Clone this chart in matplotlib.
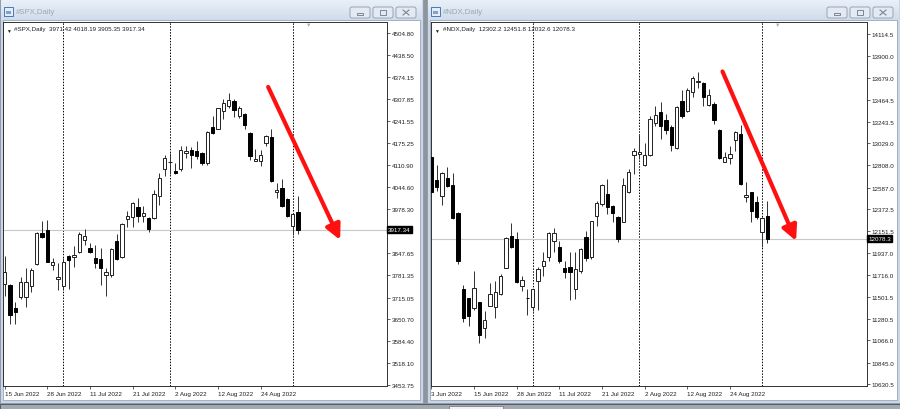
import matplotlib
matplotlib.use('Agg')  # no display

import matplotlib.pyplot as plt
import matplotlib.transforms as mtransforms
from matplotlib.patches import Rectangle, FancyBboxPatch
import numpy as np
import pandas as pd

plt.rcParams['font.family'] = ['Liberation Sans', 'DejaVu Sans']

W, H = 900, 410

# trading days on screen (NDX window starts 3 Jun, SPX window 15 Jun)
holidays = pd.to_datetime(['2022-06-20', '2022-07-04'])
days = pd.bdate_range('2022-06-03', '2022-09-02')
days = days[~days.isin(holidays)]

# ---- #SPX,Daily (15 Jun .. 2 Sep)
spx_open = [3755, 3752, 3685, 3717, 3716, 3749, 3815, 3909, 3916, 3811, 3769, 3749, 3840, 3835,
            3852, 3886, 3863, 3832, 3830, 3782, 3782, 3884, 3835, 3950, 3957, 3986, 3959, 3954,
            3952, 4017, 4100, 4119, 4092, 4100, 4148, 4156, 4154, 4147, 4117, 4224, 4219, 4272,
            4287, 4302, 4257, 4262, 4207, 4124, 4122, 4177, 4195, 4030, 4042, 4010, 3930, 3971.42]
spx_high = [3840, 3755, 3702, 3777, 3802, 3802, 3910, 3944, 3947, 3832, 3817, 3832, 3842, 3870,
            3912, 3920, 3877, 3872, 3862, 3802, 3862, 3904, 3937, 3972, 4000, 4012, 3987, 3956,
            4037, 4087, 4142, 4147, 4117, 4167, 4167, 4166, 4184, 4150, 4212, 4257, 4282, 4307,
            4327, 4307, 4287, 4267, 4210, 4159, 4157, 4199, 4217, 4057, 4069, 4012, 3967, 4018.19]
spx_low = [3720, 3637, 3635, 3712, 3687, 3732, 3812, 3892, 3820, 3797, 3737, 3737, 3742, 3807,
           3849, 3872, 3847, 3802, 3752, 3720, 3777, 3827, 3832, 3927, 3927, 3940, 3942, 3912,
           3950, 3992, 4077, 4084, 4084, 4094, 4132, 4102, 4130, 4110, 4112, 4202, 4217, 4247,
           4282, 4254, 4252, 4217, 4127, 4122, 4107, 4167, 4060, 4012, 3984, 3957, 3902, 3905.35]
spx_close = [3790, 3662, 3672, 3760, 3762, 3796, 3907, 3897, 3822, 3820, 3777, 3820, 3827, 3843,
             3904, 3898, 3850, 3817, 3804, 3790, 3860, 3829, 3935, 3958, 3997, 3959, 3968, 3920,
             4024, 4072, 4131, 4121, 4088, 4156, 4152, 4142, 4139, 4117, 4209, 4207, 4280, 4297,
             4306, 4275, 4282, 4230, 4137, 4130, 4142, 4197, 4062, 4035, 3987, 3960, 3964, 3917.34]
spx_yticks = [4504.80, 4438.50, 4374.15, 4307.85, 4241.55, 4175.25, 4110.90, 4044.60, 3978.30,
              3847.65, 3781.35, 3715.05, 3650.70, 3584.40, 3518.10, 3453.75]

# ---- #NDX,Daily (3 Jun .. 2 Sep)
ndx_open = [12889, 12663, 12507, 12680, 12614, 12331, 11578, 11485, 11385, 11445, 11186, 11412,
            11395, 11528, 11790, 12106, 12076, 11611, 11492, 11395, 11654, 11810, 11893, 12059,
            11993, 11790, 11793, 11578, 11760, 12092, 11893, 12302, 12424, 12524, 12408, 12292,
            12248, 12540, 12912, 12919, 12813, 12912, 13231, 13337, 13261, 13188, 12982, 13453,
            13354, 13537, 13636, 13629, 13414, 13420, 13161, 12846, 12879, 13062, 13121, 12491,
            12547, 12447, 12142, 12302.2]
ndx_high = [12899, 12813, 12746, 12789, 12730, 12348, 11618, 11491, 11760, 11452, 11362, 11638,
            11661, 11727, 12092, 12232, 12149, 11710, 11578, 11578, 11793, 11943, 12142, 12182,
            12059, 11860, 11943, 11943, 11983, 12159, 12258, 12457, 12624, 12673, 12414, 12302,
            12680, 12773, 12978, 13111, 13032, 13297, 13404, 13437, 13321, 13211, 13404, 13563,
            13576, 13702, 13736, 13636, 13570, 13437, 13171, 12939, 12998, 13155, 13211, 12640,
            12547, 12507, 12291, 12451.8]
ndx_low = [12507, 12557, 12418, 12590, 12275, 11827, 11246, 11206, 11372, 11040, 11086, 11405,
           11286, 11518, 11784, 11983, 11637, 11561, 11319, 11362, 11372, 11710, 11860, 11950,
           11837, 11684, 11471, 11478, 11737, 11860, 11876, 12209, 12408, 12325, 12242, 12049,
           12242, 12534, 12723, 12872, 12799, 12899, 13204, 13072, 13121, 12955, 12972, 13277,
           13337, 13487, 13576, 13404, 13404, 13221, 12872, 12839, 12823, 12955, 12613, 12441,
           12242, 12275, 11992, 12032.6]
ndx_close = [12547, 12590, 12730, 12607, 12285, 11860, 11286, 11312, 11591, 11120, 11272, 11528,
             11545, 11711, 12089, 11993, 11644, 11667, 11488, 11578, 11777, 11853, 12132, 12136,
             11853, 11750, 11750, 11777, 11976, 11883, 12252, 12434, 12617, 12391, 12335, 12076,
             12613, 12740, 12955, 12945, 12912, 13271, 13311, 13204, 13165, 13012, 13387, 13304,
             13563, 13676, 13652, 13487, 13510, 13261, 12882, 12889, 12922, 13145, 12623, 12514,
             12358, 12291, 12281, 12078.3]
ndx_yticks = [14114.5, 13900.0, 13679.0, 13464.5, 13243.5, 13029.0, 12808.0, 12587.0, 12372.5,
              12151.5, 11937.0, 11716.0, 11501.5, 11280.5, 11066.0, 10845.0, 10630.5]

# hand-drawn trend arrows: (bar, price) start -> end
spx_arrow = ((49.4, 4344), (62.9, 3887))
ndx_arrow = ((54.6, 13744), (68.4, 12056))

FS = 4.5


def draw_window(bg, x0, x1, title):
    # window frame + title bar + client area
    bg.add_patch(Rectangle((x0, 0), x1 - x0, 404, fc='#c8d6e8', ec='#8d99a6', lw=0.6))
    grad = np.linspace(0, 1, 30).reshape(-1, 1)
    bg.imshow(grad, cmap=matplotlib.colors.LinearSegmentedColormap.from_list(
        't', ['#e9f0f8', '#cfdcec']), extent=(x0 + 1, x1 - 1, 21, 1), aspect='auto', zorder=1)
    bg.add_patch(Rectangle((x0 + 3, 21), x1 - x0 - 6, 380, fc='white', ec='#9aa8b8', lw=0.6, zorder=2))
    # icon
    bg.add_patch(Rectangle((x0 + 4, 8), 9, 9, fc='#e4edf7', ec='#4b78b0', lw=0.7, zorder=3))
    bg.add_patch(Rectangle((x0 + 6, 12), 5, 3, fc='#7fa3d0', ec='none', zorder=3))
    bg.text(x0 + 16, 13, title, fontsize=5.6, color='#9ba7b5', va='center', ha='left', zorder=3)
    # min / max / close buttons
    for i, bx in enumerate([x1 - 73, x1 - 50, x1 - 27]):
        bg.add_patch(FancyBboxPatch((bx, 8), 20, 11, boxstyle='round,pad=0,rounding_size=2',
                                    fc='#e3eaf3', ec='#8c9bae', lw=0.6, zorder=3))
        cx = bx + 10
        if i == 0:
            bg.add_patch(Rectangle((cx - 3, 14), 6, 2, fc='none', ec='#55606c', lw=0.5, zorder=4))
        elif i == 1:
            bg.add_patch(Rectangle((cx - 3, 11), 6, 5, fc='none', ec='#55606c', lw=0.5, zorder=4))
        else:
            bg.plot([cx - 3, cx + 3], [11, 16], color='#7a8490', lw=0.8, zorder=4)
            bg.plot([cx - 3, cx + 3], [16, 11], color='#7a8490', lw=0.8, zorder=4)


def draw_chart(ax, name, o, h, l, c, d, yticks, fmt, ylim, xlim, arrow):
    o, h, l, c = map(np.asarray, (o, h, l, c))
    x = np.arange(len(o))
    up = c >= o
    ax.vlines(x, l, h, color='#303030', lw=0.7, zorder=3)
    ax.bar(x[up], (c - o)[up], bottom=o[up], width=0.6, color='white', edgecolor='#202020',
           lw=0.7, zorder=4)
    ax.bar(x[~up], (o - c)[~up], bottom=c[~up], width=0.6, color='black', edgecolor='black',
           lw=0.7, zorder=4)

    # monthly period separators
    for i in range(1, len(d)):
        if d[i].month != d[i - 1].month:
            ax.axvline(i, color='black', lw=0.7, ls=(0, (1.5, 1.5)), zorder=1)

    ax.axhline(c[-1], color='#c8c8c8', lw=0.8, zorder=2)
    ax.set_xlim(*xlim)
    ax.set_ylim(*ylim)

    ticks = x[::8]
    ax.set_xticks(ticks)
    ax.set_xticklabels([f'{d[i].day} {d[i]:%b %Y}' for i in ticks], ha='left')
    ax.set_yticks(yticks)
    ax.set_yticklabels([fmt.format(v) for v in yticks])
    ax.tick_params(axis='y', left=False, right=True, labelleft=False, labelright=True,
                   direction='out', length=2, width=0.5, pad=1.5, labelsize=FS, colors='#202020')
    ax.tick_params(axis='x', direction='out', length=2, width=0.5, pad=1.5, labelsize=FS,
                   colors='#202020')
    for s in ax.spines.values():
        s.set_color('#303030')
        s.set_linewidth(0.7)

    tr = mtransforms.blended_transform_factory(ax.transAxes, ax.transData)
    ax.text(1.004, c[-1], fmt.format(c[-1]), transform=tr, ha='left', va='center', fontsize=FS,
            color='white', zorder=6, bbox=dict(boxstyle='square,pad=0.18', fc='black', ec='black'))

    hdr = ' '.join(fmt.format(v) for v in (o[-1], h[-1], l[-1], c[-1]))
    ax.text(0.008, 0.985, '\u25bc', transform=ax.transAxes, fontsize=3.5, va='top', color='#202020')
    ax.text(0.027, 0.99, f'{name}  {hdr}', transform=ax.transAxes, fontsize=FS, va='top',
            color='#202020')
    # chart shift marker
    trx = mtransforms.blended_transform_factory(ax.transData, ax.transAxes)
    ax.text(len(o) + 1, 1.0, '\u25bc', transform=trx, fontsize=4, ha='center', va='top',
            color='#b0b0b0')

    ax.annotate('', xy=arrow[1], xytext=arrow[0],
                arrowprops=dict(arrowstyle='-|>,head_length=0.9,head_width=0.45', color='#ff1010',
                                lw=3, mutation_scale=10, shrinkA=0, shrinkB=0), zorder=7)


fig = plt.figure(figsize=(W / 100, H / 100), dpi=100)
bg = fig.add_axes([0, 0, 1, 1])
bg.set_xlim(0, W)
bg.set_ylim(H, 0)
bg.axis('off')
bg.add_patch(Rectangle((0, 0), W, H, fc='#8e949b', ec='none', zorder=0))
bg.add_patch(Rectangle((0, 405), W, 5, fc='#a3a9b0', ec='#4a5056', lw=0.6, zorder=0))
bg.add_patch(Rectangle((449, 406.5), 54, 4, fc='#eef2f6', ec='#6d7580', lw=0.5, zorder=1))
draw_window(bg, 0, 423, '#SPX,Daily')
draw_window(bg, 427, 900, '#NDX,Daily')


def px_axes(x0, y0, x1, y1):
    return fig.add_axes([x0 / W, 1 - y1 / H, (x1 - x0) / W, (y1 - y0) / H])


ax1 = px_axes(3.3, 23.3, 386.7, 387.3)
draw_chart(ax1, '#SPX,Daily', spx_open, spx_high, spx_low, spx_close, days[8:],
           spx_yticks, '{:.2f}', (3450, 4537), (-0.26, 71.63), spx_arrow)

ax2 = px_axes(431.0, 23.3, 866.7, 387.3)
draw_chart(ax2, '#NDX,Daily', ndx_open, ndx_high, ndx_low, ndx_close, days,
           ndx_yticks, '{:.1f}', (10608, 14234), (-0.06, 81.64), ndx_arrow)

fig.savefig('out.png', dpi=100)
plt.close(fig)
